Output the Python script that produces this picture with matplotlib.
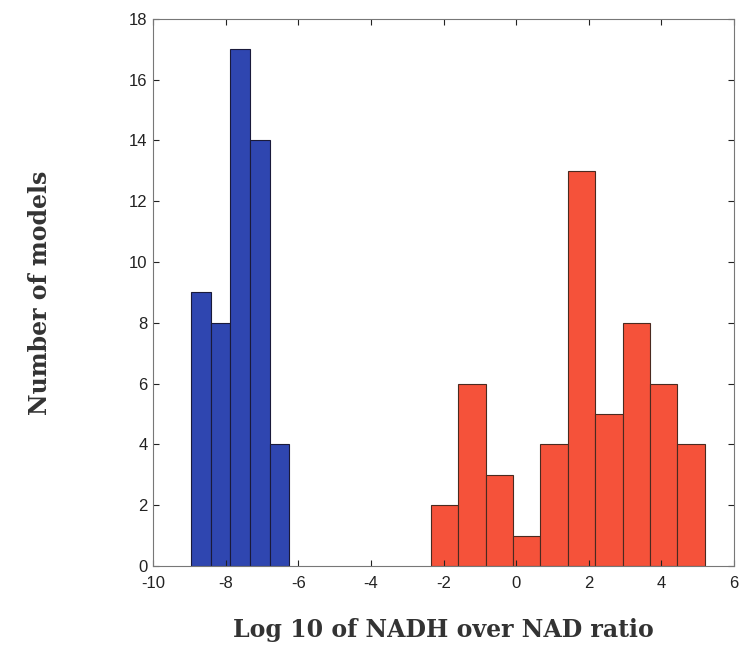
import numpy as np
import matplotlib
matplotlib.use("Agg")
import matplotlib.pyplot as plt

plt.rcParams['axes.unicode_minus'] = False

# histogram counts
blue_counts = [9, 8, 17, 14, 4]
blue_edges = np.linspace(-8.96, -6.25, 6)
red_counts = [2, 6, 3, 1, 4, 13, 5, 8, 6, 4]
red_edges = np.linspace(-2.35, 5.19, 11)

x_ticks = [-10, -8, -6, -4, -2, 0, 2, 4, 6]
y_ticks = [0, 2, 4, 6, 8, 10, 12, 14, 16, 18]

fig = plt.figure(figsize=(7.43, 6.49), dpi=100)
ax = fig.add_axes([0.206, 0.128, 0.782, 0.843])

ax.bar(blue_edges[:-1], blue_counts, width=np.diff(blue_edges), align='edge',
       color='#2f46b0', edgecolor='#1a1a3a', linewidth=0.8)
ax.bar(red_edges[:-1], red_counts, width=np.diff(red_edges), align='edge',
       color='#f5523a', edgecolor='#4a2a20', linewidth=0.8)

ax.set_xlim(-10, 6)
ax.set_ylim(0, 18)
ax.set_xticks(x_ticks)
ax.set_yticks(y_ticks)
ax.tick_params(direction='in', length=4, labelsize=12, colors='#222222', top=True, right=True)
ax.tick_params(axis='x', pad=7)
ax.tick_params(axis='y', pad=4)
for lab in ax.get_xticklabels() + ax.get_yticklabels():
    lab.set_family('Liberation Sans')
for s in ax.spines.values():
    s.set_color('#777777')
    s.set_linewidth(0.8)

ax.set_xlabel('Log 10 of NADH over NAD ratio', family='DejaVu Serif', fontweight='bold',
              fontsize=17, color='#333333', labelpad=20)
ax.set_ylabel('Number of models', family='DejaVu Serif', fontweight='bold',
              fontsize=17, color='#333333', labelpad=55)

fig.savefig('out.png', dpi=100)
